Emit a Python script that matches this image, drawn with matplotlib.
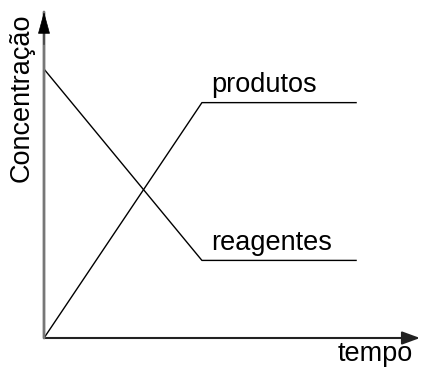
import matplotlib.pyplot as plt

plt.rcParams['font.family'] = ['Liberation Sans', 'DejaVu Sans']

# tempo / concentração (unidades arbitrárias)
tempo = [0.0, 4.2, 8.3]
reagentes = [8.25, 2.38, 2.38]
produtos = [0.0, 7.22, 7.22]

fig = plt.figure(figsize=(4.22, 3.67), dpi=100)
ax = fig.add_axes([44 / 422, 29 / 367, 376 / 422, 326 / 367])
ax.set_xlim(0, 10)
ax.set_ylim(0, 10)
ax.axis('off')

ax.plot(tempo, reagentes, color='black', lw=1.0)
ax.plot(tempo, produtos, color='black', lw=1.0)

# eixos com setas
seta = '-|>,head_width=0.22,head_length=0.6'
ax.annotate('', xy=(10, 0), xytext=(0, 0),
            arrowprops=dict(arrowstyle=seta, color='#222222', lw=1.5,
                            mutation_scale=18, shrinkA=0, shrinkB=0))
ax.annotate('', xy=(0, 10), xytext=(0, 0),
            arrowprops=dict(arrowstyle='-', color='#777777', lw=2.0,
                            shrinkA=0, shrinkB=0))
ax.annotate('', xy=(0, 10), xytext=(0, 9.0),
            arrowprops=dict(arrowstyle='-|>,head_width=0.22,head_length=0.8',
                            color='black', lw=0.5,
                            mutation_scale=18, shrinkA=0, shrinkB=0))

fs = 19.5
ax.text(4.45, 7.35, 'produtos', fontsize=fs, ha='left', va='bottom')
ax.text(4.45, 2.5, 'reagentes', fontsize=fs, ha='left', va='bottom')
ax.text(9.8, -0.08, 'tempo', fontsize=fs, ha='right', va='top')
ax.text(-0.6, 9.95, 'Concentração', fontsize=fs, rotation=90,
        ha='center', va='top')

fig.savefig('out.png', dpi=100)
